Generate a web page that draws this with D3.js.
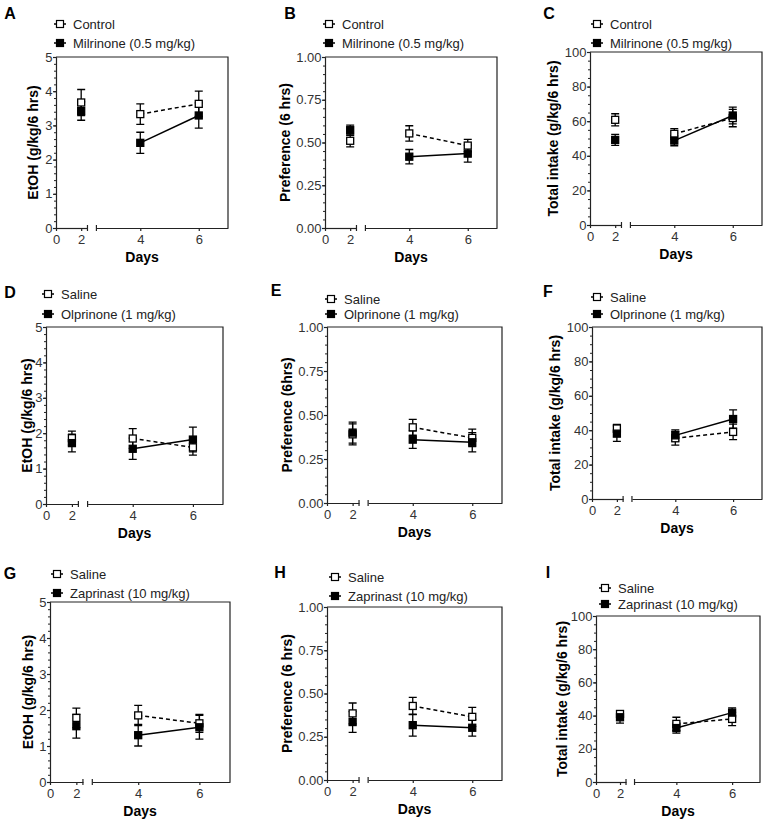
<!DOCTYPE html>
<html><head><meta charset="utf-8">
<script src="https://cdn.jsdelivr.net/npm/d3@7"></script>
<style>body{margin:0;background:#fff} svg{display:block} text{font-family:Arial,"Liberation Sans",sans-serif}</style>
</head><body><svg id="c" width="767" height="819"></svg>
<script>
// ---------- DATA ----------
const days = [2, 4, 6];
const panelIds = ["A","B","C","D","E","F","G","H","I"];

const legendCtrl = ["Control","Control","Control","Saline","Saline","Saline","Saline","Saline","Saline"];
const legendTrt = ["Milrinone (0.5 mg/kg)","Milrinone (0.5 mg/kg)","Milrinone (0.5 mg/kg)",
  "Olprinone (1 mg/kg)","Olprinone (1 mg/kg)","Olprinone (1 mg/kg)",
  "Zaprinast (10 mg/kg)","Zaprinast (10 mg/kg)","Zaprinast (10 mg/kg)"];
const yTitles = ["EtOH (g/kg/6 hrs)","Preference (6 hrs)","Total intake (g/kg/6 hrs)",
  "EtOH (g/kg/6 hrs)","Preference (6hrs)","Total intake (g/kg/6 hrs)",
  "EtOH (g/kg/6 hrs)","Preference (6 hrs)","Total intake (g/kg/6 hrs)"];
const xTitle = "Days";

// y-axis ticks per measure type
const etohTicks = [0,1,2,3,4,5];
const prefTicks = [0,0.25,0.5,0.75,1.0];
const totalTicks = [0,20,40,60,80,100];
const xTickSeg1 = [0,2];
const xTickSeg2 = [4,6];

// control (open, dashed) means and SEM
const ctrlMean = [
  [3.67,3.33,3.63],[0.51,0.553,0.482],[60.8,52.7,61.8],
  [1.86,1.85,1.60],[0.39,0.43,0.37],[41.0,35.3,39.0],
  [1.78,1.85,1.63],[0.385,0.428,0.365],[41.0,35.0,38.0]
];
const ctrlErr = [
  [0.38,0.30,0.37],[0.035,0.045,0.036],[3.5,3.0,5.0],
  [0.20,0.28,0.22],[0.06,0.045,0.05],[2.3,4.0,4.5],
  [0.27,0.28,0.25],[0.06,0.05,0.055],[1.5,4.0,4.0]
];
// treatment (filled, solid) means and SEM
const trtMean = [
  [3.42,2.49,3.29],[0.572,0.417,0.435],[49.2,48.8,63.3],
  [1.72,1.56,1.82],[0.40,0.36,0.345],[38.0,37.0,46.5],
  [1.55,1.30,1.52],[0.335,0.317,0.302],[39.0,32.5,41.8]
];
const trtErr = [
  [0.27,0.31,0.37],[0.03,0.042,0.05],[3.2,3.0,4.8],
  [0.25,0.30,0.35],[0.06,0.05,0.055],[4.5,3.2,5.3],
  [0.33,0.30,0.33],[0.06,0.063,0.048],[3.5,3.0,2.8]
];

// ---------- LAYOUT (positions only) ----------
const layout = [
  {L:56, R:228, T:57, B:228, lx:10, ly:13, mx:60, r1:24, r2:43, tx:33},
  {L:325,R:497, T:57, B:228, lx:290,ly:13, mx:329,r1:24, r2:43, tx:285},
  {L:590,R:762, T:52, B:225, lx:549,ly:13, mx:597,r1:24, r2:43, tx:553},
  {L:46, R:223, T:327,B:504, lx:10, ly:292,mx:48, r1:294,r2:314,tx:27},
  {L:327,R:502, T:327,B:503, lx:276,ly:290,mx:331,r1:299,r2:314,tx:287},
  {L:592,R:762, T:327,B:499, lx:548,ly:291,mx:597,r1:297,r2:314,tx:555},
  {L:50, R:230, T:602,B:782, lx:10, ly:573,mx:57, r1:574,r2:593,tx:28},
  {L:327,R:502, T:607,B:780, lx:280,ly:572,mx:335,r1:577,r2:596,tx:287},
  {L:596,R:760, T:616,B:782, lx:548,ly:572,mx:605,r1:588,r2:604,tx:562}
];

const svg = d3.select("#c");
const axisColor = "#222";

panelIds.forEach((id, i) => {
  const lay = layout[i];
  const kind = i % 3;
  const ticks = kind === 0 ? etohTicks : kind === 1 ? prefTicks : totalTicks;
  const ymax = ticks[ticks.length - 1];
  const minorStep = kind === 0 ? 0.2 : kind === 1 ? 0.05 : 5;
  const fmt = kind === 1 ? d3.format(".2f") : d3.format("d");
  const g = svg.append("g");
  const W = lay.R - lay.L;

  const x1 = d3.scaleLinear().domain([0, 2.5]).range([lay.L, lay.L + 0.183 * W]);
  const x2 = d3.scaleLinear().domain([2.5, 7]).range([lay.L + 0.235 * W, lay.R]);
  const xs = d => d <= 2.5 ? x1(d) : x2(d);
  const y = d3.scaleLinear().domain([0, ymax]).range([lay.B, lay.T]);

  // frame top/right
  g.append("path").attr("d", `M${lay.L},${lay.T}H${lay.R}V${lay.B}`)
    .attr("fill", "none").attr("stroke", axisColor).attr("stroke-width", 1.2);

  // y minor ticks
  const minors = d3.range(0, ymax + minorStep / 2, minorStep);
  g.append("g").attr("transform", `translate(${lay.L},0)`)
    .call(d3.axisLeft(y).tickValues(minors).tickSize(2).tickFormat(""))
    .call(a => a.selectAll("line,path").attr("stroke", axisColor).attr("stroke-width", 1));
  // y major
  const ya = g.append("g").attr("transform", `translate(${lay.L},0)`)
    .call(d3.axisLeft(y).tickValues(ticks).tickSize(3).tickSizeOuter(0).tickPadding(0.5).tickFormat(fmt));
  ya.selectAll("line,path").attr("stroke", axisColor).attr("stroke-width", 1.2);
  ya.selectAll("text").attr("font-size", 13).attr("fill", "#333")
    .style("font-family", "Arial, 'Liberation Sans', sans-serif");

  // x axis segments
  [[x1, xTickSeg1], [x2, xTickSeg2]].forEach(([sc, tv]) => {
    const xa = g.append("g").attr("transform", `translate(0,${lay.B})`)
      .call(d3.axisBottom(sc).tickValues(tv).tickSize(3).tickSizeOuter(0).tickPadding(4).tickFormat(d3.format("d")));
    xa.selectAll("line,path").attr("stroke", axisColor).attr("stroke-width", 1.2);
    xa.selectAll("text").attr("font-size", 13).attr("fill", "#333")
      .style("font-family", "Arial, 'Liberation Sans', sans-serif");
  });
  // break marks
  [x1(2.5), x2(2.5)].forEach(bx => {
    g.append("line").attr("x1", bx).attr("x2", bx).attr("y1", lay.B - 3).attr("y2", lay.B + 3)
      .attr("stroke", axisColor).attr("stroke-width", 1.2);
  });

  // titles
  g.append("text").attr("transform", `translate(${lay.tx},${(lay.T + lay.B) / 2}) rotate(-90)`)
    .attr("text-anchor", "middle").attr("dominant-baseline", "central")
    .attr("font-size", 14).attr("font-weight", "bold").text(yTitles[i]);
  g.append("text").attr("x", (lay.L + lay.R) / 2).attr("y", lay.B + 29)
    .attr("text-anchor", "middle").attr("dominant-baseline", "central")
    .attr("font-size", 14).attr("font-weight", "bold").text(xTitle);
  g.append("text").attr("x", lay.lx).attr("y", lay.ly)
    .attr("text-anchor", "middle").attr("dominant-baseline", "central")
    .attr("font-size", 16).attr("font-weight", "bold").text(id);

  // legend
  [[lay.r1, legendCtrl[i], true], [lay.r2, legendTrt[i], false]].forEach(([ry, label, open]) => {
    g.append("line").attr("x1", lay.mx - 6).attr("x2", lay.mx + 6).attr("y1", ry).attr("y2", ry)
      .attr("stroke", "#000").attr("stroke-width", 1.5);
    g.append("rect").attr("x", lay.mx - 3.5).attr("y", ry - 3.5).attr("width", 7).attr("height", 7)
      .attr("fill", open ? "#fff" : "#000").attr("stroke", "#000").attr("stroke-width", 1.2);
    g.append("text").attr("x", lay.mx + 13).attr("y", ry).attr("dominant-baseline", "central")
      .attr("font-size", 13).attr("fill", "#222").text(label);
  });

  // series
  const series = [
    {m: ctrlMean[i], e: ctrlErr[i], open: true, dash: "4,3"},
    {m: trtMean[i], e: trtErr[i], open: false, dash: null}
  ];
  series.forEach(s => {
    const pts = days.map((d, k) => ({d, m: s.m[k], e: s.e[k]}));
    pts.forEach(p => {
      const cx = xs(p.d);
      g.append("path")
        .attr("d", `M${cx},${y(p.m - p.e)}V${y(p.m + p.e)}M${cx - 4},${y(p.m + p.e)}H${cx + 4}M${cx - 4},${y(p.m - p.e)}H${cx + 4}`)
        .attr("fill", "none").attr("stroke", "#000").attr("stroke-width", 1.3);
    });
  });
  series.forEach(s => {
    const pts = days.map((d, k) => ({d, m: s.m[k]}));
    const line = d3.line().x(p => xs(p.d)).y(p => y(p.m));
    g.append("path").datum(pts.filter(p => p.d > 2.5)).attr("d", line)
      .attr("fill", "none").attr("stroke", "#000").attr("stroke-width", 1.5)
      .attr("stroke-dasharray", s.dash);
  });
  series.forEach(s => {
    days.forEach((d, k) => {
      g.append("rect").attr("x", xs(d) - 3.5).attr("y", y(s.m[k]) - 3.5)
        .attr("width", 7).attr("height", 7)
        .attr("fill", s.open ? "#fff" : "#000").attr("stroke", "#000").attr("stroke-width", 1.3);
    });
  });
});
</script>
</body></html>
